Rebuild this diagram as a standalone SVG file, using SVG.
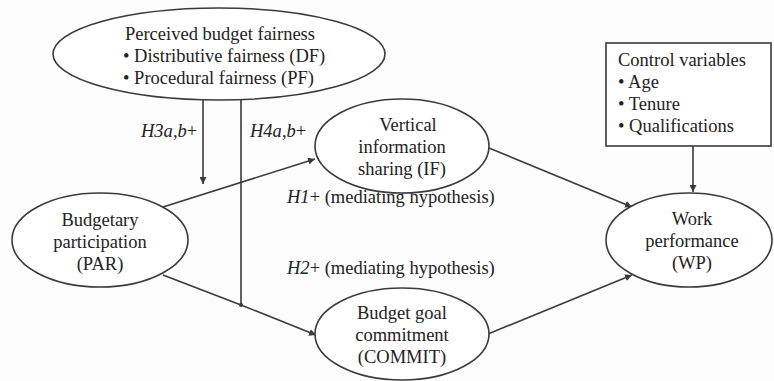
<svg xmlns="http://www.w3.org/2000/svg" width="774" height="381" viewBox="0 0 774 381">
<defs>
<style>
.n{fill:#fff;stroke:#3a3a3a;stroke-width:1.6}
.lbl{font-family:'Liberation Serif','Times New Roman',serif;font-size:18.5px;fill:#222}
.c{text-anchor:middle}
.e{stroke:#3a3a3a;stroke-width:1.6;fill:none}
</style>
<marker id="ah" viewBox="0 0 10 10" refX="10" refY="5" markerWidth="7" markerHeight="7" markerUnits="userSpaceOnUse" orient="auto">
<path d="M0,0 L10,5 L0,10 z" fill="#3a3a3a"/>
</marker>
</defs>
<rect width="774" height="381" fill="#fdfdfd"/>
<g id="connectors">
<line class="e" x1="203" y1="100" x2="203" y2="184" marker-end="url(#ah)"/>
<polyline class="e" points="241,100 241,305"/>
<line class="e" x1="163" y1="207" x2="315" y2="159" marker-end="url(#ah)"/>
<polyline class="e" points="163,275 241,305 316,335" marker-end="url(#ah)"/>
<circle cx="241" cy="305" r="2" fill="#3a3a3a"/>
<line class="e" x1="489" y1="148" x2="632" y2="207" marker-end="url(#ah)"/>
<line class="e" x1="488" y1="334" x2="632" y2="275" marker-end="url(#ah)"/>
<line class="e" x1="693" y1="146" x2="693" y2="192" marker-end="url(#ah)"/>
<text class="lbl" x="141" y="137"><tspan font-style="italic">H3a</tspan>,<tspan font-style="italic">b</tspan>+</text>
<text class="lbl" x="250" y="137"><tspan font-style="italic">H4a</tspan>,<tspan font-style="italic">b</tspan>+</text>
<text class="lbl" x="287" y="203"><tspan font-style="italic">H1</tspan>+ (mediating hypothesis)</text>
<text class="lbl" x="287" y="274"><tspan font-style="italic">H2</tspan>+ (mediating hypothesis)</text>
</g>
<g id="fairness">
<ellipse class="n" cx="219" cy="54" rx="166" ry="46"/>
<text class="lbl c" x="220" y="40">Perceived budget fairness</text>
<text class="lbl" x="123" y="62">• Distributive fairness (DF)</text>
<text class="lbl" x="123" y="84">• Procedural fairness (PF)</text>
</g>
<g id="control">
<rect class="n" x="606" y="43" width="165" height="103"/>
<text class="lbl" x="618" y="66">Control variables</text>
<text class="lbl" x="618" y="88">• Age</text>
<text class="lbl" x="618" y="110">• Tenure</text>
<text class="lbl" x="618" y="132">• Qualifications</text>
</g>
<g id="IF">
<ellipse class="n" cx="402" cy="146" rx="87" ry="47"/>
<text class="lbl c" x="408" y="131">Vertical</text>
<text class="lbl c" x="402" y="153">information</text>
<text class="lbl c" x="402" y="175">sharing (IF)</text>
</g>
<g id="PAR">
<ellipse class="n" cx="100" cy="240" rx="88" ry="47"/>
<text class="lbl c" x="100" y="226">Budgetary</text>
<text class="lbl c" x="100" y="248">participation</text>
<text class="lbl c" x="100" y="270">(PAR)</text>
</g>
<g id="COMMIT">
<ellipse class="n" cx="402" cy="334" rx="87" ry="46"/>
<text class="lbl c" x="402" y="319">Budget goal</text>
<text class="lbl c" x="402" y="341">commitment</text>
<text class="lbl c" x="402" y="363">(COMMIT)</text>
</g>
<g id="WP">
<ellipse class="n" cx="689" cy="240" rx="83" ry="47"/>
<text class="lbl c" x="692" y="225">Work</text>
<text class="lbl c" x="692" y="247">performance</text>
<text class="lbl c" x="692" y="269">(WP)</text>
</g>
</svg>
